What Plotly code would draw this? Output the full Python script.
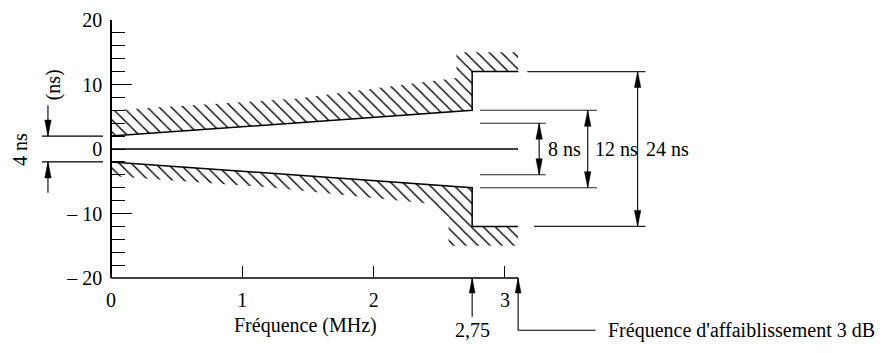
import plotly.graph_objects as go

# ---------------- data ----------------
freq_mask = [0, 2.75, 2.75, 3.1]            # MHz, mask breakpoints
upper_limit = [2, 6, 12, 12]                # ns
lower_limit = [-2, -6, -12, -12]            # ns

upper_hatch_freq = [3.1, 2.63, 2.63, 2.35, 1.4, 0]
upper_hatch_edge = [15, 15, 11, 10.3, 7.8, 6]
lower_hatch_freq = [3.1, 2.57, 2.57, 2.39, 1.23, 0]
lower_hatch_edge = [-15, -15, -10.5, -8.4, -6.0, -4.2]

x_ticks = [0, 1, 2, 3]
x_tick_labels = ["0", "1", "2", "3"]
y_ticks = [-20, -10, 0, 10, 20]
y_tick_labels = ["\u2013 20", "\u2013 10", "0", "10", "20"]
y_minor_step = 2
y_long_ticks = [-10, 10]

freq_axis_end = 3.1
f_275 = 2.75
f_3db = 3.1

# right-hand dimension reference lines
dim_levels = [12, 6, 4, -4, -6, -12]
dim_x_start = [3.17, 2.81, 2.81, 2.81, 2.81, 3.22]
dim_x_end = [4.07, 3.70, 3.31, 3.31, 3.70, 4.07]
spans = [8, 12, 24]
span_x = [3.26, 3.63, 4.01]
span_labels = ["8 ns", "12 ns", "24 ns"]
span_label_x = [3.31, 3.67, 4.06]

left_span = 4
left_line_x = [-0.526, -0.061]
left_arrow_x = -0.48
left_arrow_len = 4.8

# ---------------- geometry helpers ----------------
W, H = 891, 353
PX_X = 131.33   # px per MHz
PX_Y = 6.45     # px per ns
X0_PX = 111
X_RANGE = [-X0_PX / PX_X, (W - X0_PX) / PX_X]
TOP_PX, BOT_PX = 20, 278
Y2_RANGE = [-20 - (H - BOT_PX) / PX_Y, 20 + TOP_PX / PX_Y]
FONT = "Liberation Serif"
BLACK = "#000000"

fig = go.Figure()


def arrowhead(x, y, direction, length=16, half=3.2):
    base = y - direction * length / PX_Y
    xs = [x - half / PX_X, x, x + half / PX_X, x - half / PX_X]
    ys = [base, y, base, base]
    fig.add_trace(go.Scatter(x=xs, y=ys, mode="lines", fill="toself",
                             fillcolor=BLACK, line=dict(color=BLACK, width=0.5),
                             yaxis="y2", hoverinfo="skip", showlegend=False))


def seg_trace(xs, ys, width=1.1, axis="y2", color=BLACK):
    fig.add_trace(go.Scatter(x=xs, y=ys, mode="lines",
                             line=dict(color=color, width=width),
                             yaxis=axis, hoverinfo="skip", showlegend=False))


pattern = dict(shape="\\", size=8.5, solidity=0.16, fgcolor=BLACK,
               bgcolor="rgba(255,255,255,0)", fillmode="replace")

# hatched regions (main y axis)
fig.add_trace(go.Scatter(x=freq_mask + upper_hatch_freq,
                         y=upper_limit + upper_hatch_edge,
                         mode="none", fill="toself", fillpattern=pattern,
                         fillcolor="rgba(0,0,0,0)", yaxis="y",
                         hoverinfo="skip", showlegend=False))
fig.add_trace(go.Scatter(x=freq_mask + lower_hatch_freq,
                         y=lower_limit + lower_hatch_edge,
                         mode="none", fill="toself", fillpattern=pattern,
                         fillcolor="rgba(0,0,0,0)", yaxis="y",
                         hoverinfo="skip", showlegend=False))

# zero line (on the overlaid tick axis)
seg_trace([0, freq_axis_end], [0, 0], width=1.3, axis="y3")

# mask limits
seg_trace(freq_mask, upper_limit, width=1.5)
seg_trace(freq_mask, lower_limit, width=1.5)

# x axis line
seg_trace([0, freq_axis_end], [y_ticks[0], y_ticks[0]], width=1.5)

# right-hand reference lines
xs, ys = [], []
for lv, a, b in zip(dim_levels, dim_x_start, dim_x_end):
    xs += [a, b, None]
    ys += [lv, lv, None]
seg_trace(xs, ys, width=1.1, color="#222222")

# span arrows
for s, x in zip(spans, span_x):
    seg_trace([x, x], [-s / 2, s / 2], width=1.1)
    arrowhead(x, s / 2, +1)
    arrowhead(x, -s / 2, -1)

# left "4 ns" dimension
h = left_span / 2
xs, ys = [], []
for lv in (h, -h):
    xs += [left_line_x[0], left_line_x[1], None]
    ys += [lv, lv, None]
seg_trace(xs, ys, width=1.1)
seg_trace([left_arrow_x, left_arrow_x], [h + left_arrow_len, h], width=1.1)
seg_trace([left_arrow_x, left_arrow_x], [-h - left_arrow_len, -h], width=1.1)
arrowhead(left_arrow_x, h, -1)
arrowhead(left_arrow_x, -h, +1)

# frequency markers below axis
seg_trace([f_275, f_275], [-26.0, -20], width=1.1)
arrowhead(f_275, -20, +1, length=15, half=2.9)
seg_trace([f_3db, f_3db, 3.69], [-20, -28.1, -28.1], width=1.1)
arrowhead(f_3db, -20, +1, length=15, half=2.9)

# ---------------- text ----------------
font = dict(family=FONT, size=20, color=BLACK)
ann = []
for lab, x in zip(span_labels, span_label_x):
    ann.append(dict(x=x, y=0, text=lab, xanchor="left", yanchor="middle"))
ann.append(dict(x=-0.693, y=0, text="4 ns", textangle=-90,
                xanchor="center", yanchor="middle"))
ann.append(dict(x=-0.44, y=9.9, text="(ns)", textangle=-90,
                xanchor="center", yanchor="middle"))
ann.append(dict(x=1.48, y=-27.4, text="Fréquence (MHz)", xanchor="center", yanchor="middle"))
ann.append(dict(x=f_275, y=-28.1, text="2,75", xanchor="center", yanchor="middle"))
ann.append(dict(x=3.77, y=-28.1, text="Fréquence d'affaiblissement 3 dB",
                xanchor="left", yanchor="middle"))
for a in ann:
    a.update(xref="x", yref="y2", showarrow=False, font=font)

fig.update_layout(
    width=W, height=H, autosize=False,
    margin=dict(l=0, r=0, t=0, b=0, pad=0, autoexpand=False),
    paper_bgcolor="white", plot_bgcolor="rgba(0,0,0,0)",
    font=font, showlegend=False,
    annotations=ann,
    xaxis=dict(domain=[0, 1], range=X_RANGE, anchor="y", automargin=False,
               showline=False, showgrid=False, zeroline=False,
               tickmode="array", tickvals=x_ticks, ticktext=x_tick_labels,
               ticks="inside", ticklen=12, tickwidth=1.3, tickcolor=BLACK,
               ticklabelstandoff=8,
               tickfont=font, fixedrange=True),
    yaxis=dict(domain=[(H - BOT_PX) / H, (H - TOP_PX) / H], range=[-20, 20],
               anchor="free", position=X0_PX / W, automargin=False,
               showline=True, linewidth=1.5, linecolor=BLACK,
               showgrid=False, zeroline=False,
               tickmode="array", tickvals=y_ticks, ticktext=y_tick_labels,
               ticks="inside", ticklen=13, tickwidth=1.3, tickcolor=BLACK,
               ticklabelstandoff=4,
               minor=dict(tickmode="linear", tick0=0, dtick=y_minor_step,
                          ticks="inside", ticklen=13, tickwidth=1.3,
                          tickcolor=BLACK, showgrid=False),
               tickfont=font, fixedrange=True),
    yaxis3=dict(overlaying="y", range=[-20, 20], anchor="free", position=X0_PX / W,
                automargin=False, showline=False, showgrid=False, zeroline=False,
                tickmode="array", tickvals=y_long_ticks, showticklabels=False,
                ticks="inside", ticklen=20, tickwidth=1.3, tickcolor=BLACK,
                fixedrange=True),
    yaxis2=dict(domain=[0, 1], range=Y2_RANGE, anchor="x", visible=False,
                automargin=False, showgrid=False, zeroline=False, fixedrange=True),
)

fig.write_html("out.html", config={"displayModeBar": False},
               post_script="document.body.style.margin='0';document.body.style.overflow='hidden';")
